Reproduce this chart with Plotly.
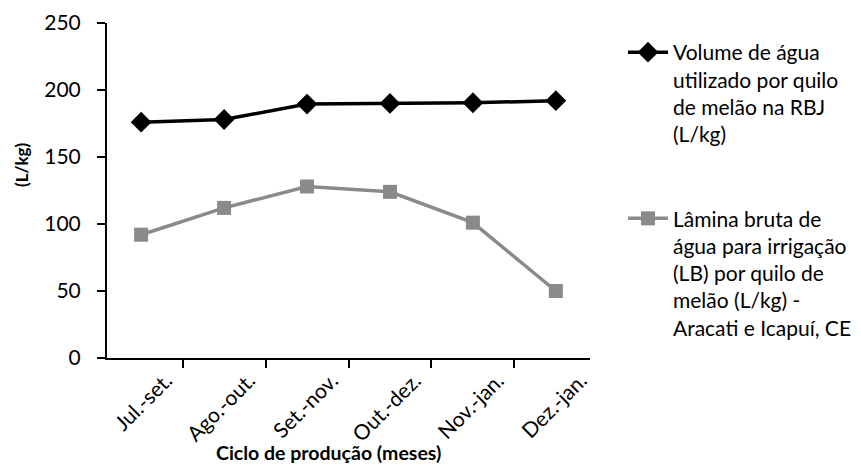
import plotly.graph_objects as go

categories = ["Jul.-set.", "Ago.-out.", "Set.-nov.", "Out.-dez.", "Nov.-jan.", "Dez.-jan."]
volume_rbj = [176, 178, 189.5, 190, 190.5, 192]
lamina_bruta = [92, 112, 128, 124, 101, 50]
y_ticks = [0, 50, 100, 150, 200, 250]

name1 = "Volume de água<br>utilizado por quilo<br>de melão na RBJ<br>(L/kg)"
name2 = "Lâmina bruta de<br>água para irrigação<br>(LB) por quilo de<br>melão (L/kg) -<br>Aracati e Icapuí, CE"

font_family = "Lato, Open Sans, sans-serif"

# The page body has an 8px default margin, so the figure is drawn 8px smaller
# and target screen positions are shifted by OFF.
OFF = 8
W, H = 861 - OFF, 465 - OFF
ML, MR, MT, MB = 107 - OFF, 271, 23 - OFF, 107
plot_w = W - ML - MR
plot_h = H - MT - MB

def px_x(x):
    return (x - OFF - ML) / plot_w

def px_y(y):
    return (H - MB - (y - OFF)) / plot_h

fig = go.Figure()
fig.add_trace(go.Scatter(
    x=categories, y=volume_rbj, name=name1, mode="lines+markers",
    line=dict(color="#000000", width=3.5),
    marker=dict(symbol="diamond", size=16, color="#000000"),
    legendgroup="a",
))
fig.add_trace(go.Scatter(
    x=categories, y=lamina_bruta, name=name2, mode="lines+markers",
    line=dict(color="#8a8a8a", width=3.5),
    marker=dict(symbol="square", size=14, color="#8a8a8a"),
    legendgroup="b",
))

fig.update_layout(
    width=W, height=H,
    margin=dict(l=ML, r=MR, t=MT, b=MB),
    plot_bgcolor="white", paper_bgcolor="white",
    font=dict(family=font_family, size=20, color="#000000"),
    legend=dict(
        xref="container", yref="container",
        x=(623 - OFF) / W, y=1 - (32 - OFF) / H, xanchor="left", yanchor="top",
        font=dict(size=21), tracegroupgap=54, itemwidth=40,
        valign="top", maxheight=1,
        bgcolor="rgba(0,0,0,0)",
    ),
    xaxis=dict(
        type="category", automargin=False,
        showline=True, linecolor="#000000", linewidth=2,
        ticks="outside", tickson="boundaries", ticklen=8, tickwidth=2, tickcolor="#000000",
        tickangle=-45, showgrid=False,
        ticklabelshift=25, ticklabelstandoff=0,
        tickfont=dict(size=21),
    ),
    yaxis=dict(
        range=[0, 250], tickvals=y_ticks, automargin=False,
        showline=True, linecolor="#000000", linewidth=2,
        ticks="outside", ticklen=8, tickwidth=2, tickcolor="#000000",
        showgrid=False, zeroline=False,
        ticklabelstandoff=12,
        tickfont=dict(size=21),
    ),
    annotations=[
        dict(text="<b>Ciclo de produção (meses)</b>", x=px_x(328), y=px_y(452),
             xref="paper", yref="paper", showarrow=False,
             font=dict(size=19.5), xanchor="center", yanchor="middle"),
        dict(text="<b>(L/kg)</b>", x=px_x(21), y=px_y(165),
             xref="paper", yref="paper", showarrow=False, textangle=-90,
             font=dict(size=17), xanchor="center", yanchor="middle"),
    ],
)

fig.write_html("out.html")
